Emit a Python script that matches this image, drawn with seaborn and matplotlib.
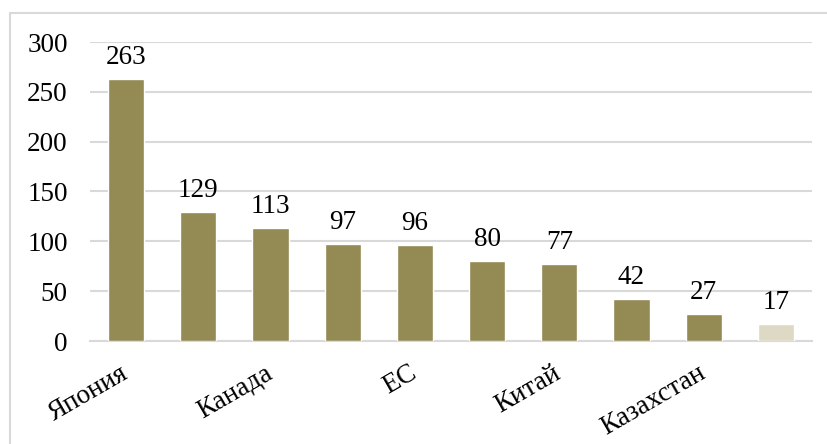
import matplotlib
matplotlib.use("Agg")
import matplotlib.pyplot as plt
import seaborn as sns
import pandas as pd
from matplotlib.patches import Rectangle

values = [263, 129, 113, 97, 96, 80, 77, 42, 27, 17]
tick_labels = ['Япония', 'Канада', 'ЕС', 'Китай', 'Казахстан']
bar_colors = ['#948A54'] * 9 + ['#DDD9C4']
y_ticks = [0, 50, 100, 150, 200, 250, 300]


def plot_bars(values):
    df = pd.DataFrame({'pos': range(len(values)), 'value': values})

    sns.set_theme(style='white')
    plt.rcParams['font.family'] = ['Liberation Serif', 'DejaVu Serif']

    fig = plt.figure(figsize=(8.27, 4.44), dpi=100)
    ax = fig.add_axes([90 / 827, 1 - 341 / 444, 722 / 827, 299 / 444])

    sns.barplot(data=df, x='pos', y='value', hue='pos', palette=bar_colors,
                legend=False, width=0.5, saturation=1, ax=ax, zorder=3)

    # Подписи значений над столбцами
    for i, v in enumerate(values):
        ax.annotate(str(v), (i, v), xytext=(0, 6.5), textcoords='offset points',
                    ha='center', va='bottom', fontsize=19.5, color='black')

    ax.set_xlim(-0.5, len(values) - 0.5)
    ax.set_ylim(0, 300)
    ax.set_yticks(y_ticks)
    ax.set_yticklabels([str(t) for t in y_ticks], fontsize=19.5, color='black')
    ax.set_xticks(range(0, len(values), 2))
    ax.set_xticklabels(tick_labels, fontsize=19.5, rotation=30, ha='right',
                       rotation_mode='anchor', va='center', color='black')
    ax.tick_params(axis='x', length=0, pad=22)
    ax.tick_params(axis='y', length=0, pad=16)
    ax.set_xlabel('')
    ax.set_ylabel('')

    ax.grid(axis='y', color='#D9D9D9', linewidth=1.5, zorder=0)
    ax.set_axisbelow(True)
    for side in ['top', 'right', 'left']:
        ax.spines[side].set_visible(False)
    ax.spines['bottom'].set_color('#D9D9D9')
    ax.spines['bottom'].set_linewidth(1.5)

    # Рамка области диаграммы
    fig.patches.append(Rectangle((10 / 827, -0.1), 1.0, 1 - 13 / 444 + 0.1,
                                 transform=fig.transFigure, fill=False,
                                 edgecolor='#D9D9D9', linewidth=1.5))

    fig.savefig('out.png', dpi=100)


if __name__ == "__main__":
    plot_bars(values)
